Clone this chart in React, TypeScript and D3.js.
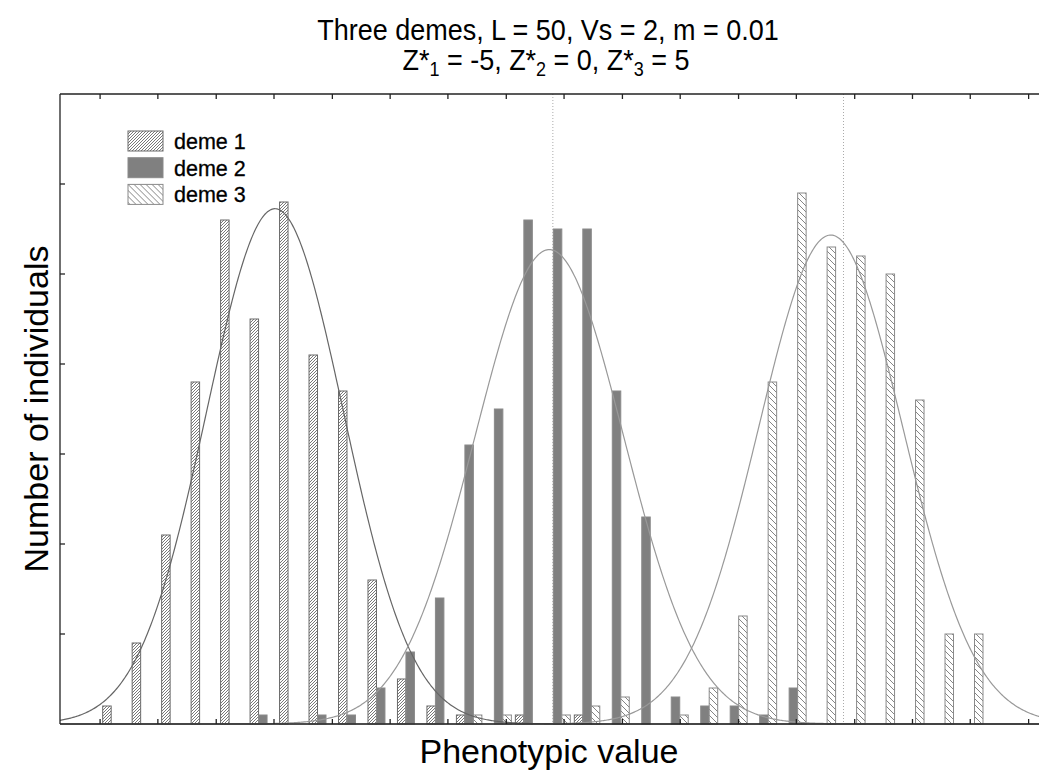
import React from "react";
import * as d3 from "d3";

// Bin centres (phenotypic value) and counts per deme
const binValues = [-7.5, -7, -6.5, -6, -5.5, -5, -4.5, -4, -3.5, -3, -2.5, -2, -1.5, -1, -0.5, 0, 0.5, 1, 1.5, 2, 2.5, 3, 3.5, 4, 4.5, 5, 5.5, 6, 6.5, 7];
const deme1 = [2, 9, 21, 38, 56, 45, 58, 41, 37, 16, 5, 2, 1, 0, 1, 0, 1, 0, 0, 0, 0, 0, 0, 0, 0, 0, 0, 0, 0, 0];
const deme2 = [0, 0, 0, 0, 0, 1, 0, 1, 1, 4, 8, 14, 31, 35, 56, 55, 55, 37, 23, 3, 2, 2, 1, 4, 0, 0, 0, 0, 0, 0];
const deme3 = [0, 0, 0, 0, 0, 0, 0, 0, 0, 0, 0, 0, 1, 1, 0, 1, 2, 3, 0, 1, 4, 12, 38, 59, 53, 52, 50, 36, 10, 10];
const demeNames = ["deme 1", "deme 2", "deme 3"];
const xTicks = [-7.76, -6.78, -5.79, -4.81, -3.82, -2.84, -1.86, -0.87, 0.11, 1.1, 2.08, 3.07, 4.05, 5.04, 6.02, 7.0, 7.99];
const yTicks = [10, 20, 30, 40, 50, 60];
const optimumLines = [-0.08, 4.85];
const binWidth = 0.5;

const W = 1039;
const H = 775;
const FONT = "'Liberation Sans', Arial, Helvetica, sans-serif";

export default function App() {
  const x = d3.scaleLinear().domain([-8.44, 8.2]).range([60, 1041]);
  const y = d3.scaleLinear().domain([0, 70]).range([724, 94]);
  const barW = x(0.144) - x(0);
  const series = [deme1, deme2, deme3];

  const fits = series.map((s) => {
    const n = d3.sum(s);
    const mean = d3.sum(s, (c, i) => c * binValues[i]) / n;
    const v = d3.sum(s, (c, i) => c * (binValues[i] - mean) ** 2) / n;
    const sd = Math.sqrt(v);
    return { n, mean, sd };
  });
  const samples = d3.range(-8.44, 8.2, 0.02);
  const line = d3
    .line<number>()
    .x((d) => x(d))
    .curve(d3.curveLinear);
  const curvePaths = fits.map((f) =>
    line.y((d) => y((f.n * binWidth * Math.exp(-((d - f.mean) ** 2) / (2 * f.sd * f.sd))) / (Math.sqrt(2 * Math.PI) * f.sd)))(samples)
  );

  const fills = ["url(#hatch1)", "#808080", "url(#hatch3)"];
  const strokes = ["#6a6a6a", "#8a8a8a", "#8a8a8a"];
  const curveColors = ["#666", "#999", "#999"];

  return (
    <svg width={W} height={H} style={{ position: "absolute", left: 0, top: 0, background: "#fff" }} fontFamily={FONT}>
      <defs>
        <pattern id="hatch1" patternUnits="userSpaceOnUse" width={3} height={3}>
          <rect width={3} height={3} fill="#fff" />
          <path d="M-1,1 l2,-2 M0,3 l3,-3 M2,4 l2,-2" stroke="#555" strokeWidth={0.8} />
        </pattern>
        <pattern id="hatch3" patternUnits="userSpaceOnUse" width={6} height={6}>
          <rect width={6} height={6} fill="#fff" />
          <path d="M-1,5 l2,2 M0,0 l6,6 M5,-1 l2,2" stroke="#777" strokeWidth={0.9} />
        </pattern>
      </defs>
      <rect x={0} y={0} width={W} height={H} fill="#fff" />

      {/* optimum lines */}
      {optimumLines.map((v, i) => (
        <line key={i} x1={x(v)} x2={x(v)} y1={y(70)} y2={y(0)} stroke="#aaa" strokeWidth={1} strokeDasharray="1,2" />
      ))}

      {/* bars */}
      {series.map((s, j) => (
        <g key={j}>
          {s.map((c, i) =>
            c > 0 ? (
              <rect
                key={i}
                x={x(binValues[i]) + (j - 1.5) * barW}
                y={y(c)}
                width={barW}
                height={y(0) - y(c)}
                fill={fills[j]}
                stroke={strokes[j]}
                strokeWidth={1}
              />
            ) : null
          )}
        </g>
      ))}

      {/* fitted curves */}
      {curvePaths.map((p, j) => (
        <path key={j} d={p || ""} fill="none" stroke={curveColors[j]} strokeWidth={1.2} />
      ))}

      {/* frame */}
      <line x1={60} x2={W + 5} y1={y(70)} y2={y(70)} stroke="#222" strokeWidth={1.3} />
      <line x1={60} x2={W + 5} y1={y(0)} y2={y(0)} stroke="#222" strokeWidth={1.3} />
      <line x1={60} x2={60} y1={y(70)} y2={y(0)} stroke="#222" strokeWidth={1.3} />
      {xTicks.map((t, i) => (
        <g key={i}>
          <line x1={x(t)} x2={x(t)} y1={y(0)} y2={y(0) - 5} stroke="#222" strokeWidth={1.3} />
          <line x1={x(t)} x2={x(t)} y1={y(70)} y2={y(70) + 5} stroke="#222" strokeWidth={1.3} />
        </g>
      ))}
      {yTicks.map((t, i) => (
        <line key={i} x1={60} x2={65} y1={y(t)} y2={y(t)} stroke="#222" strokeWidth={1.3} />
      ))}

      {/* legend */}
      {demeNames.map((name, j) => (
        <g key={j} transform={`translate(128, ${131 + j * 26.7})`}>
          <rect x={0} y={0} width={35} height={20} fill={fills[j]} stroke={strokes[j]} strokeWidth={1} />
          <text x={46} y={18} fontSize={21.5} fill="#000" stroke="#000" strokeWidth={0.3}>
            {name}
          </text>
        </g>
      ))}

      {/* titles */}
      <g transform="translate(548, 40) scale(0.9, 1)">
        <text x={0} y={0} fontSize={30} textAnchor="middle" fill="#000">
          Three demes, L = 50, Vs = 2, m = 0.01
        </text>
      </g>
      <g transform="translate(546, 70) scale(0.9, 1)">
        <text x={0} y={0} fontSize={30} textAnchor="middle" fill="#000">
          <tspan>Z*</tspan>
          <tspan fontSize={20} dy={6}>1</tspan>
          <tspan dy={-6}> = -5, Z*</tspan>
          <tspan fontSize={20} dy={6}>2</tspan>
          <tspan dy={-6}> = 0, Z*</tspan>
          <tspan fontSize={20} dy={6}>3</tspan>
          <tspan dy={-6}> = 5</tspan>
        </text>
      </g>
      <text x={549} y={763} fontSize={34} textAnchor="middle" fill="#000">
        Phenotypic value
      </text>
      <text transform="translate(48, 409) rotate(-90)" fontSize={34} textAnchor="middle" fill="#000">
        Number of individuals
      </text>
    </svg>
  );
}
